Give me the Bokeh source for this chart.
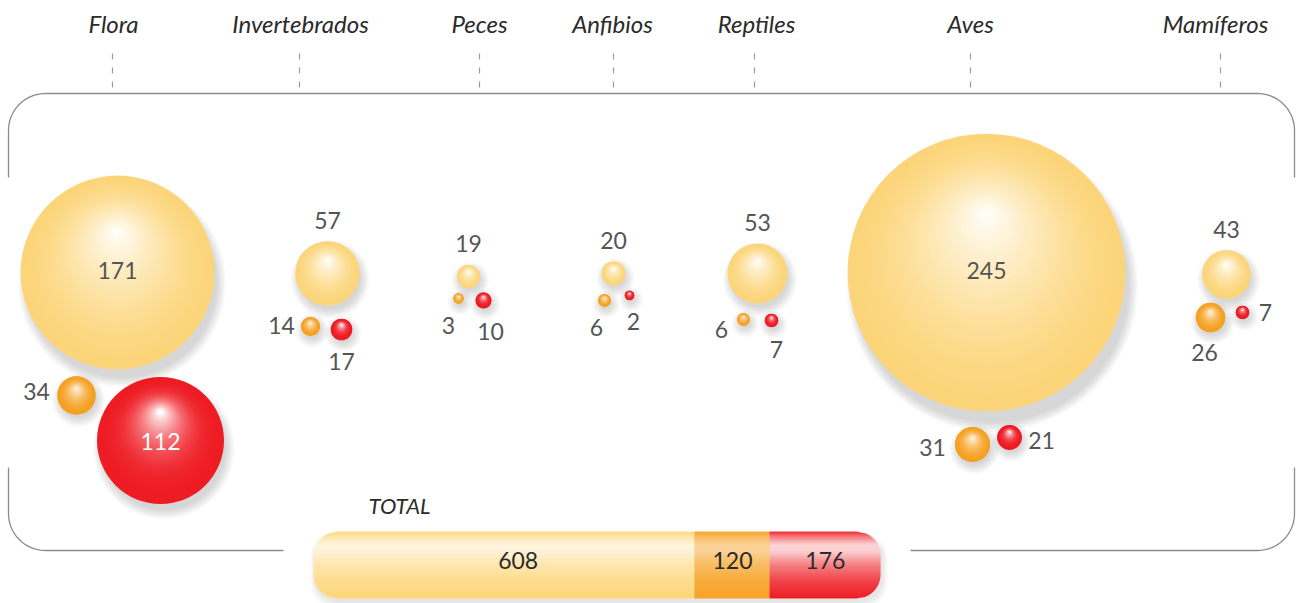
import numpy as np
from bokeh.plotting import figure
from bokeh.models import Range1d, ColumnDataSource
from bokeh.core.properties import value
from bokeh.embed import file_html
from bokeh.resources import INLINE

# ---------------- data ----------------
categories = ["Flora", "Invertebrados", "Peces", "Anfibios", "Reptiles", "Aves", "Mamíferos"]
yellow_vals = [171, 57, 19, 20, 53, 245, 43]
orange_vals = [34, 14, 3, 6, 6, 31, 26]
red_vals = [112, 17, 10, 2, 7, 21, 7]
total_title = "TOTAL"

# ---------------- layout (pixel space of the page) ----------------
cat_x = [112, 299, 479, 613, 754, 970, 1220]       # tick positions
head_x = [113, 300, 479, 612, 756, 970, 1215]      # header text centres
row_y = 272
# bubble offsets relative to (cat_x, row_y)
y_off = [(5, 0), (28, 1), (-11, 4), (0, 1), (3, 1), (16, 0), (6, 2)]
o_off = [(-36, 123), (11, 54), (-21, 26), (-9, 28), (-11, 47), (2, 172), (-10, 45)]
r_off = [(48, 168), (42, 57), (4, 28), (16, 23), (17, 48), (39, 165), (22, 40)]
# label offsets relative to bubble centre ("top" = above the bubble)
y_lab = ["in", "top", "top", "top", "top", "in", "top"]
o_lab = [(-40, -3), (-29, 0), (-10, 28), (-8, 28), (-22, 11), (-40, 4), (-6, 36)]
r_lab = [(0, 2), (0, 33), (7, 32), (4, 27), (5, 30), (32, 4), (23, 1)]

FONT = "Lato"
TXT = "#555555"

W, H = 1296, 603
p = figure(width=W, height=H, output_backend="svg", toolbar_location=None,
           x_range=Range1d(0, W), y_range=Range1d(H, 0),
           min_border=0, outline_line_color=None)
p.axis.visible = False
p.grid.visible = False
p.background_fill_color = "white"
p.border_fill_color = "white"


def radius_of(v):
    return max(0.567 * v, 4.0 + 0.4 * v)


def hex2rgb(h):
    h = h.lstrip("#")
    return np.array([int(h[i:i + 2], 16) for i in (0, 2, 4)], dtype=float)


def mix(c1, c2, f):
    a, b = hex2rgb(c1), hex2rgb(c2)
    c = a + (b - a) * f
    return "#%02x%02x%02x" % tuple(int(round(v)) for v in np.clip(c, 0, 255))


styles = {
    "y": dict(base="#fcd57a", hl="#fffdf6", off=0.42, g=1.6),
    "o": dict(base="#f5a020", hl="#fff3e0", off=0.38, g=1.8),
    "r": dict(base="#ee1c24", hl="#ffffff", off=0.45, g=2.6),
}

bubbles = []  # (x, y, r, style)
for i in range(len(categories)):
    bubbles.append((cat_x[i] + y_off[i][0], row_y + y_off[i][1], radius_of(yellow_vals[i]), "y"))
    bubbles.append((cat_x[i] + o_off[i][0], row_y + o_off[i][1], radius_of(orange_vals[i]), "o"))
    bubbles.append((cat_x[i] + r_off[i][0], row_y + r_off[i][1], radius_of(red_vals[i]), "r"))

# shadows
sh = dict(x=[], y=[], r=[])
for (x, y, r, s) in bubbles:
    for k in range(7):
        sh["x"].append(x + 0.03 * r + 1.5)
        sh["y"].append(y + 0.07 * r + 3.5)
        sh["r"].append(r - 2 + 1.5 * k)
p.circle(x="x", y="y", radius="r", source=ColumnDataSource(sh),
         fill_color="#707070", fill_alpha=0.04, line_color=None)

# shaded spheres
N = 34
sp = dict(x=[], y=[], r=[], c=[])
for i in range(N):
    t = i / (N - 1)
    for (x, y, r, s) in bubbles:
        st = styles[s]
        sp["x"].append(x)
        sp["y"].append(y - r * st["off"] * t)
        sp["r"].append(r * (1 - 0.96 * t))
        sp["c"].append(mix(st["base"], st["hl"], t ** st["g"]))
p.circle(x="x", y="y", radius="r", fill_color="c", line_color=None,
         source=ColumnDataSource(sp))

# value labels
lx, ly, lt, lc = [], [], [], []
for i in range(len(categories)):
    bx, by, br, _ = bubbles[3 * i]
    if y_lab[i] == "in":
        lx.append(bx); ly.append(by - 2)
    else:
        lx.append(bx); ly.append(by - br - 21)
    lt.append(str(yellow_vals[i])); lc.append(TXT)
    bx, by, br, _ = bubbles[3 * i + 1]
    lx.append(bx + o_lab[i][0]); ly.append(by + o_lab[i][1] - 1)
    lt.append(str(orange_vals[i])); lc.append(TXT)
    bx, by, br, _ = bubbles[3 * i + 2]
    lx.append(bx + r_lab[i][0]); ly.append(by + r_lab[i][1] - 1)
    lt.append(str(red_vals[i])); lc.append("white" if i == 0 else TXT)
p.text(x=lx, y=ly, text=lt, text_color=lc, text_font=value(FONT),
       text_font_size="23px", text_align="center", text_baseline="middle")

# headers and dashed ticks
p.text(x=head_x, y=[23] * len(categories), text=categories, text_color="#2b2b2b",
       text_font=value(FONT), text_font_style="italic", text_font_size="24px",
       text_align="center", text_baseline="middle")
p.segment(x0=cat_x, y0=[53] * 7, x1=cat_x, y1=[93] * 7, line_color="#9a9a9a",
          line_width=1.2, line_dash="6 8")


# frame
def arc(cx, cy, R, a0, a1, n=24):
    t = np.linspace(a0, a1, n)
    return list(cx + R * np.cos(t)), list(cy + R * np.sin(t))


L, Rt, T, B, RAD = 8, 1294, 93, 550, 37
ax1, ay1 = arc(L + RAD, T + RAD, RAD, np.pi, 1.5 * np.pi)
ax2, ay2 = arc(Rt - RAD, T + RAD, RAD, 1.5 * np.pi, 2 * np.pi)
top_x = [L] + ax1 + ax2 + [Rt]
top_y = [177] + ay1 + ay2 + [177]
bx1, by1 = arc(L + RAD, B - RAD, RAD, np.pi, 0.5 * np.pi)
bl_x = [L] + bx1 + [283]
bl_y = [467] + by1 + [B]
bx2, by2 = arc(Rt - RAD, B - RAD, RAD, 0.5 * np.pi, 0)
br_x = [910] + bx2 + [Rt]
br_y = [B] + by2 + [467]
p.multi_line(xs=[top_x, bl_x, br_x], ys=[top_y, bl_y, br_y], line_color="#8c8c8c",
             line_width=1.3)

# ---------------- total bar ----------------
totals = [sum(yellow_vals), sum(orange_vals), sum(red_vals)]
BX0, BX1, BT, BB, BR = 313, 880, 531, 598, 24
grand = sum(totals)
edges = [BX0]
for v in totals:
    edges.append(edges[-1] + v / grand * (BX1 - BX0))


def inset(y):
    if y < BT + BR:
        d = BT + BR - y
        return BR - np.sqrt(max(BR ** 2 - d ** 2, 0))
    if y > BB - BR:
        d = y - (BB - BR)
        return BR - np.sqrt(max(BR ** 2 - d ** 2, 0))
    return 0.0


# bar shadow
shx, shy = [], []
for k in range(5):
    ys = np.linspace(BT, BB, 40)
    left = [BX0 + inset(y) for y in ys]
    right = [BX1 - inset(y) for y in ys]
    grow = 1.2 * k
    xs = [l - grow + 2 for l in left] + [r + grow + 2 for r in right[::-1]]
    yy = [y + 4 + grow * (1 if y > (BT + BB) / 2 else -0.3) for y in ys] + \
         [y + 4 + grow * (1 if y > (BT + BB) / 2 else -0.3) for y in ys[::-1]]
    shx.append(xs); shy.append(yy)
p.patches(xs=shx, ys=shy, fill_color="#808080", fill_alpha=0.045, line_color=None)

bar_style = [("#fdd67a", 0.78), ("#f7a226", 0.55), ("#ee1e25", 0.86)]
s_stops = [0.0, 0.07, 0.2, 0.3, 0.5, 0.75, 1.0]
m_stops = [0.05, 0.45, 0.95, 0.9, 0.5, 0.18, 0.0]
NS = 34
ys = np.linspace(BT, BB, NS + 1)
px, py, pc = [], [], []
for si in range(3):
    base, strength = bar_style[si]
    x_l, x_r = edges[si], edges[si + 1]
    for k in range(NS):
        y0, y1 = ys[k], min(ys[k + 1] + 0.6, BB)
        s = (k + 0.5) / NS
        m = np.interp(s, s_stops, m_stops) * strength
        if si == 0:
            l0, l1 = x_l + inset(y0), x_l + inset(y1)
        else:
            l0 = l1 = x_l - 0.4
        if si == 2:
            r0, r1 = x_r - inset(y0), x_r - inset(y1)
        else:
            r0 = r1 = x_r + 0.4
        px.append([l0, r0, r1, l1]); py.append([y0, y0, y1, y1])
        pc.append(mix(base, "#ffffff", m))
p.patches(xs=px, ys=py, fill_color=pc, line_color=None)

mid = [(edges[i] + edges[i + 1]) / 2 for i in range(3)]
mid[0] += 14
p.text(x=mid, y=[560] * 3, text=[str(v) for v in totals], text_color="#2b2b2b",
       text_font=value(FONT), text_font_size="23px", text_align="center",
       text_baseline="middle")
p.text(x=[399], y=[505], text=[total_title], text_color="#2b2b2b", text_font=value(FONT),
       text_font_style="italic", text_font_size="22px", text_align="center",
       text_baseline="middle")

open("out.html", "w").write(file_html(p, INLINE))
